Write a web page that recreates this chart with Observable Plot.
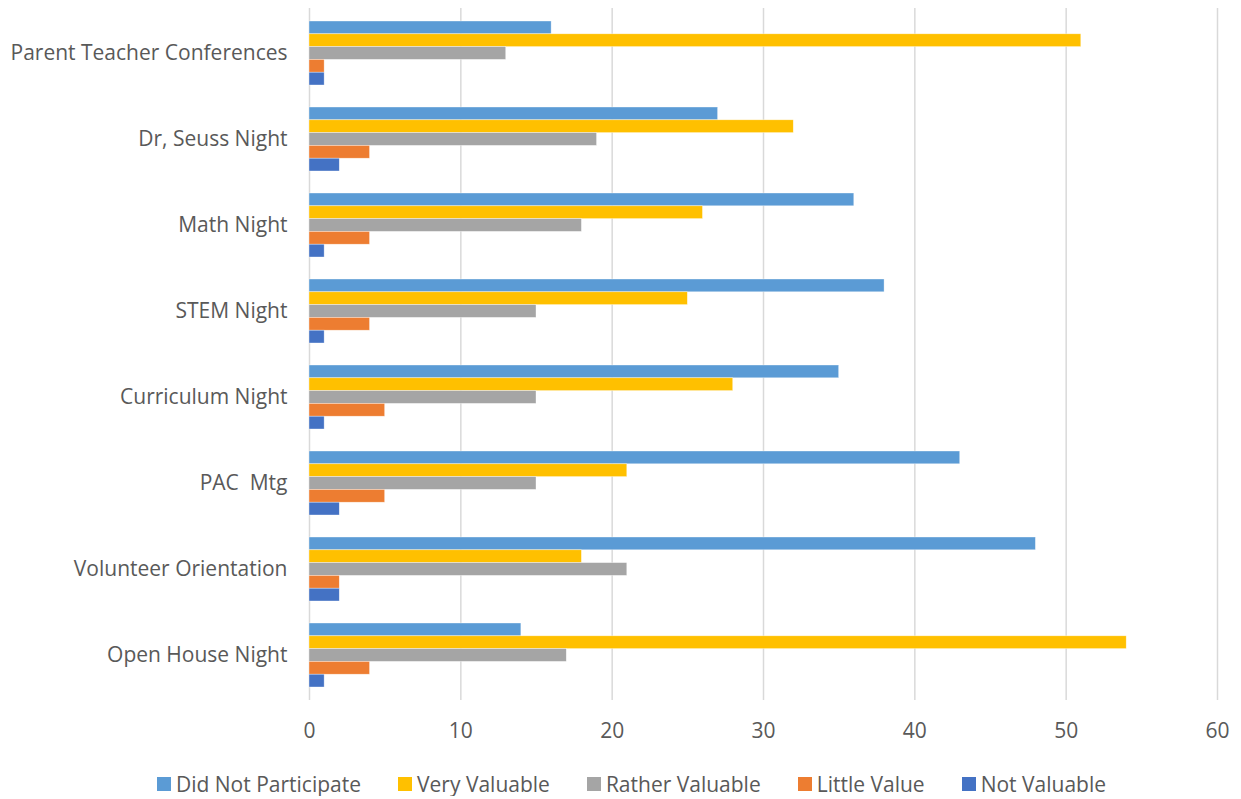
<!DOCTYPE html>
<html>
<head>
<meta charset="utf-8">
<script src="https://cdn.jsdelivr.net/npm/d3@7"></script>
<script src="https://cdn.jsdelivr.net/npm/@observablehq/plot@0.6"></script>
<style>
  html, body { margin: 0; padding: 0; background: #fff; }
  #chart { width: 1241px; font-family: "Open Sans", Lato, sans-serif; color: #595959; }
  .legend { display: flex; justify-content: center; align-items: center; gap: 37px; margin-top: 12px; padding-left: 22px; font-size: 21px; line-height: 24px; }
  .legend span.item { display: inline-flex; align-items: center; }
  .legend i { display: inline-block; width: 14px; height: 14px; margin-right: 5px; }
</style>
</head>
<body>
<div id="chart"></div>
<script>
const categories = ["Parent Teacher Conferences", "Dr, Seuss Night", "Math Night", "STEM Night", "Curriculum Night", "PAC  Mtg", "Volunteer Orientation", "Open House Night"];
const seriesNames = ["Did Not Participate", "Very Valuable", "Rather Valuable", "Little Value", "Not Valuable"];
const seriesColors = ["#5B9BD5", "#FFC000", "#A5A5A5", "#ED7D31", "#4472C4"];
const didNotParticipate = [16, 27, 36, 38, 35, 43, 48, 14];
const veryValuable = [51, 32, 26, 25, 28, 21, 18, 54];
const ratherValuable = [13, 19, 18, 15, 15, 15, 21, 17];
const littleValue = [1, 4, 4, 4, 5, 5, 2, 4];
const notValuable = [1, 2, 1, 1, 1, 2, 2, 1];
const xTicks = [0, 10, 20, 30, 40, 50, 60];

const seriesValues = [didNotParticipate, veryValuable, ratherValuable, littleValue, notValuable];
const rows = [];
seriesNames.forEach((s, i) => categories.forEach((c, j) => rows.push({category: c, series: s, value: seriesValues[i][j]})));

const marginTop = 8, marginBottom = 60, height = 760;
const paddingInner = 0.26, paddingOuter = 0.13;
const step = (height - marginTop - marginBottom) / (categories.length - paddingInner + 2 * paddingOuter);
const band = step * (1 - paddingInner);
const barH = band / seriesNames.length;

const barMarks = seriesNames.map((s, i) => Plot.barX(rows.filter(r => r.series === s), {
  x: "value", y: "category", fill: seriesColors[i],
  stroke: "#ffffff", strokeWidth: 0.6, strokeOpacity: 0.6,
  insetTop: i * barH, insetBottom: (seriesNames.length - 1 - i) * barH
}));

const plot = Plot.plot({
  width: 1241,
  height,
  marginTop, marginBottom,
  marginLeft: 309, marginRight: 24,
  style: {fontFamily: "'Open Sans', Lato, sans-serif", fontSize: "21px", color: "#595959", background: "#fff"},
  x: {domain: [0, 60], ticks: xTicks, tickSize: 0, tickPadding: 23, label: null},
  y: {domain: categories, paddingInner, paddingOuter, tickSize: 0, tickPadding: 22, label: null},
  marks: [
    Plot.ruleX(xTicks, {stroke: "#d9d9d9", strokeWidth: 1.5}),
    ...barMarks
  ]
});

const root = document.getElementById("chart");
root.appendChild(plot);
const legend = document.createElement("div");
legend.className = "legend";
seriesNames.forEach((s, i) => {
  const item = document.createElement("span");
  item.className = "item";
  const sw = document.createElement("i");
  sw.style.background = seriesColors[i];
  item.appendChild(sw);
  item.appendChild(document.createTextNode(s));
  legend.appendChild(item);
});
root.appendChild(legend);
</script>
</body>
</html>
